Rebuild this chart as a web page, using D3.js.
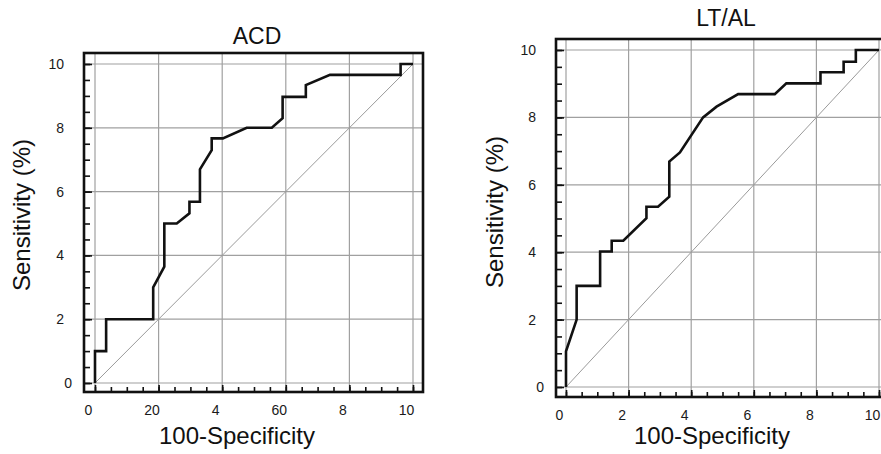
<!DOCTYPE html>
<html>
<head>
<meta charset="utf-8">
<script src="https://cdn.jsdelivr.net/npm/d3@7"></script>
<style>
  body { margin: 0; background: #fff; }
  svg { display: block; font-family: "Liberation Sans", Arial, Helvetica, sans-serif; }
</style>
</head>
<body>
<script>
// ACD curve (x: 100-specificity, y: sensitivity)
var acdX = [0, 0, 3.5, 3.5, 18.3, 18.3, 21.8, 21.8, 25.7, 29.7, 29.7, 33, 33, 36.7, 36.7, 40.2, 47.7, 55.6, 59, 59, 66.3, 66.3, 73.9, 96.1, 96.1, 100];
var acdY = [0, 1, 1, 2, 2, 3, 3.65, 5, 5, 5.32, 5.68, 5.68, 6.7, 7.3, 7.67, 7.67, 8, 8, 8.3, 8.97, 8.97, 9.34, 9.66, 9.66, 10, 10];

// LT/AL curve
var ltalX = [0, 0, 0.34, 0.34, 1.09, 1.09, 1.46, 1.46, 1.83, 2.57, 2.57, 2.94, 3.3, 3.3, 3.64, 4.38, 4.81, 5.5, 6.67, 7.04, 8.13, 8.13, 8.87, 8.87, 9.26, 9.26, 10];
var ltalY = [0, 1.06, 2, 3, 3, 4.02, 4.02, 4.34, 4.34, 5.01, 5.35, 5.35, 5.65, 6.69, 6.96, 8, 8.32, 8.69, 8.69, 9.01, 9.01, 9.34, 9.34, 9.65, 9.65, 10, 10];

// tick labels (as printed)
var acdXTicks = [0, 20, 40, 60, 80, 100];
var acdXLabels = ['0', '20', '4', '60', '8', '10'];
var ltalXTicks = [0, 2, 4, 6, 8, 10];
var ltalXLabels = ['0', '2', '4', '6', '8', '10'];
var yTicks = [0, 2, 4, 6, 8, 10];
var yLabels = ['0', '2', '4', '6', '8', '10'];

var svg = d3.select('body').append('svg').attr('width', 881).attr('height', 454);

function panel(cfg) {
  var g = svg.append('g');
  var x = d3.scaleLinear().domain(cfg.xDomain).range([cfg.x0, cfg.x1]);
  var y = d3.scaleLinear().domain([0, 10]).range([cfg.y0, cfg.y1]);

  // grid
  g.selectAll('line.vg').data(cfg.xTicks).enter().append('line')
    .attr('class', 'vg')
    .attr('x1', d => x(d)).attr('x2', d => x(d))
    .attr('y1', cfg.fTop).attr('y2', cfg.fBottom)
    .attr('stroke', '#a0a0a0').attr('stroke-width', 1.2);
  g.selectAll('line.hg').data(yTicks).enter().append('line')
    .attr('class', 'hg')
    .attr('y1', d => y(d)).attr('y2', d => y(d))
    .attr('x1', cfg.fLeft).attr('x2', cfg.fRight)
    .attr('stroke', '#a0a0a0').attr('stroke-width', 1.2);

  // diagonal
  g.append('line')
    .attr('x1', x(cfg.xDomain[0])).attr('y1', y(0))
    .attr('x2', x(cfg.xDomain[1])).attr('y2', y(10))
    .attr('stroke', '#9a9a9a').attr('stroke-width', 1);

  // roc curve
  var pts = cfg.xs.map((d, i) => [d, cfg.ys[i]]);
  g.append('path')
    .datum(pts)
    .attr('d', d3.line().x(d => x(d[0])).y(d => y(d[1])))
    .attr('fill', 'none').attr('stroke', '#111').attr('stroke-width', 2.6)
    .attr('stroke-linejoin', 'miter');

  // minor ticks
  var minorX = d3.axisBottom(x).tickValues(d3.range(cfg.xDomain[0], cfg.xDomain[1] + 1e-9, cfg.xMinor))
    .tickSize(-5).tickFormat('');
  g.append('g').attr('transform', 'translate(0,' + cfg.fBottom + ')').call(minorX)
    .call(a => a.select('.domain').remove());
  var minorY = d3.axisLeft(y).tickValues(d3.range(0, 10.001, 0.5)).tickSize(-6).tickFormat('');
  g.append('g').attr('transform', 'translate(' + cfg.fLeft + ',0)').call(minorY)
    .call(a => a.select('.domain').remove());

  // major ticks + labels
  var xAxis = d3.axisBottom(x).tickValues(cfg.xTicks).tickSize(-7).tickPadding(13)
    .tickFormat((d, i) => cfg.xLabels[i]);
  var xa = g.append('g').attr('transform', 'translate(0,' + cfg.fBottom + ')').call(xAxis);
  xa.select('.domain').remove();
  xa.selectAll('text').attr('dx', -7).attr('font-size', 14).attr('fill', '#1a1a1a')
    .attr('font-family', '"Liberation Sans", Arial, sans-serif');
  var yAxis = d3.axisLeft(y).tickValues(yTicks).tickSize(-8).tickPadding(20)
    .tickFormat((d, i) => yLabels[i]);
  var ya = g.append('g').attr('transform', 'translate(' + cfg.fLeft + ',0)').call(yAxis);
  ya.select('.domain').remove();
  ya.selectAll('text').attr('font-size', 14).attr('fill', '#1a1a1a')
    .attr('dx', d => d === 0 ? 8 : 0)
    .attr('font-family', '"Liberation Sans", Arial, sans-serif');
  g.selectAll('.tick line').attr('stroke', '#111').attr('stroke-width', 1.6);

  // frame
  g.append('rect')
    .attr('x', cfg.fLeft).attr('y', cfg.fTop)
    .attr('width', cfg.fRight - cfg.fLeft).attr('height', cfg.fBottom - cfg.fTop)
    .attr('fill', 'none').attr('stroke', '#111').attr('stroke-width', 2.6);

  // titles
  g.append('text').attr('x', cfg.titleX).attr('y', cfg.titleY)
    .attr('text-anchor', 'middle').attr('font-size', 23).attr('fill', '#111')
    .text(cfg.title);
  g.append('text').attr('x', cfg.xLabelX).attr('y', cfg.xLabelY)
    .attr('text-anchor', 'middle').attr('font-size', 24).attr('fill', '#111')
    .text('100-Specificity');
  g.append('text')
    .attr('transform', 'translate(' + cfg.yLabelX + ',' + cfg.yLabelY + ') rotate(-90)')
    .attr('text-anchor', 'middle').attr('font-size', 24).attr('fill', '#111')
    .text('Sensitivity (%)');
}

panel({
  title: 'ACD', xs: acdX, ys: acdY,
  xDomain: [0, 100], xTicks: acdXTicks, xLabels: acdXLabels, xMinor: 5,
  x0: 95, x1: 413, y0: 383, y1: 64,
  fLeft: 84, fRight: 423, fTop: 53, fBottom: 392,
  titleX: 257, titleY: 44, xLabelX: 237, xLabelY: 444, yLabelX: 30, yLabelY: 215
});

panel({
  title: 'LT/AL', xs: ltalX, ys: ltalY,
  xDomain: [0, 10], xTicks: ltalXTicks, xLabels: ltalXLabels, xMinor: 0.5,
  x0: 566, x1: 879, y0: 387, y1: 50,
  fLeft: 556, fRight: 890, fTop: 39, fBottom: 397,
  titleX: 726, titleY: 26, xLabelX: 712, xLabelY: 444, yLabelX: 503, yLabelY: 212
});
</script>
</body>
</html>
